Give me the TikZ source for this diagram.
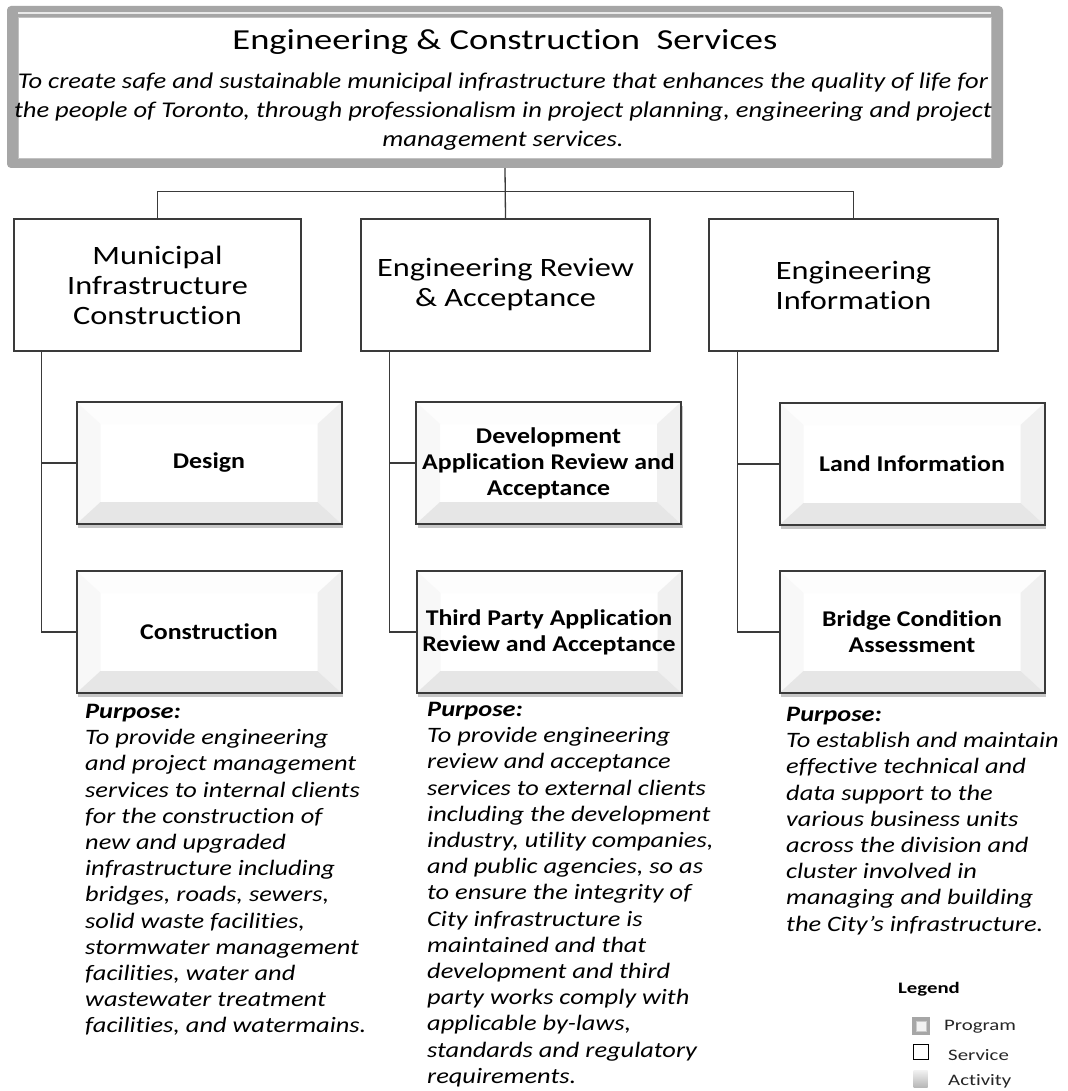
\documentclass[tikz,border=0pt]{standalone}
\usepackage{fontspec}
\defaultfontfeatures{Ligatures={NoCommon,TeX}}
\setmainfont{Carlito}
\newfontfamily\ftitle[FakeStretch=1.26]{Carlito}
\newfontfamily\fmission[FakeStretch=1.18]{Carlito}
\newfontfamily\fserv[FakeStretch=1.22]{Carlito}
\newfontfamily\fact[FakeStretch=1.15]{Carlito}
\newfontfamily\fpurp[FakeStretch=1.2]{Carlito}
\newfontfamily\fleg[FakeStretch=1.3]{Carlito}
\usetikzlibrary{calc,shadows}
\definecolor{frame}{HTML}{A6A6A6}
\definecolor{edge}{HTML}{3A3A3A}
\definecolor{bvtop}{HTML}{FDFDFD}
\definecolor{bvleft}{HTML}{F8F8F8}
\definecolor{bvright}{HTML}{F0F0F0}
\definecolor{bvbot}{HTML}{E6E6E6}
\tikzset{
  conn/.style={draw=edge, line width=1.3pt},
  servbox/.style={draw=edge, line width=1.6pt, fill=white, minimum width=#1,
    minimum height=132, inner sep=0, align=center,
    font=\fserv\fontsize{26.5}{30}\selectfont},
  actbox/.style={draw=edge, line width=2pt, fill=white, minimum width=265,
    minimum height=122, inner sep=0, align=center,
    font=\fact\bfseries\fontsize{22.5}{26}\selectfont,
    drop shadow={shadow xshift=1.5pt, shadow yshift=-3.5pt, opacity=0.22, fill=black},
    path picture={
      \coordinate (bNW) at (path picture bounding box.north west);
      \coordinate (bNE) at (path picture bounding box.north east);
      \coordinate (bSW) at (path picture bounding box.south west);
      \coordinate (bSE) at (path picture bounding box.south east);
      \fill[bvtop] (bNW) -- (bNE) -- ($(bNE)+(-24,22)$) -- ($(bNW)+(24,22)$) -- cycle;
      \fill[bvleft] (bNW) -- ($(bNW)+(24,22)$) -- ($(bSW)+(24,-22)$) -- (bSW) -- cycle;
      \fill[bvright] (bNE) -- ($(bNE)+(-24,22)$) -- ($(bSE)+(-24,-22)$) -- (bSE) -- cycle;
      \fill[bvbot] (bSW) -- ($(bSW)+(24,-22)$) -- ($(bSE)+(-24,-22)$) -- (bSE) -- cycle;
    }},
  purp/.style={anchor=north west, inner sep=0, align=left,
    font=\fpurp\itshape\fontsize{22}{26.2}\selectfont},
  legtext/.style={anchor=west, inner sep=0, text=black!85,
    font=\fleg\fontsize{16}{18}\selectfont}
}
\begin{document}
\begin{tikzpicture}[x=1pt,y=-1pt]
\useasboundingbox (0,0) rectangle (1067,1091);
\fill[white] (0,0) rectangle (1067,1091);

% ---------- program box ----------
\node[fill=frame, rounded corners=4pt, minimum width=996, minimum height=162,
      inner sep=0] (prog) at (505,87) {};
\fill[white!75!frame] (18,12.3) rectangle (991,14.2);
\fill[white] (18,17) rectangle (991,158);
\draw[frame!70, line width=0.6pt] (18,17) rectangle (991,158);
\node[font=\ftitle\fontsize{29}{32}\selectfont, inner sep=0] (title) at (505,42)
  {Engineering \& Construction\ \ Services};
\node[font=\fmission\itshape\fontsize{22.5}{29}\selectfont, align=center, inner sep=0]
  (mission) at (503,112)
  {To create safe and sustainable municipal infrastructure that enhances the quality of life for\\
   the people of Toronto, through professionalism in project planning, engineering and project\\
   management services.};

% ---------- services ----------
\node[servbox=287] (s1) at (157.5,285) {Municipal\\Infrastructure\\Construction};
\node[servbox=289] (s2) at (505.5,285) {Engineering Review\\\& Acceptance};
\node[servbox=289] (s3) at (853.5,285) {Engineering\\Information};

\draw[conn] (prog.south) -- (s2.north);
\draw[conn] (s1.north) -- ++(0,-27) -| (s3.north);

% ---------- activities ----------
\node[actbox] (a11) at (209,463) {Design};
\node[actbox] (a12) at (209,632) {Construction};
\node[actbox] (a21) at (548.5,463) {Development\\Application Review and\\Acceptance};
\node[actbox] (a22) at (549,632) {Third Party Application\\Review and Acceptance};
\node[actbox] (a31) at (912,464) {Land Information};
\node[actbox] (a32) at (912,632) {Bridge Condition\\Assessment};

\draw[conn] ([xshift=28]s1.south west) |- (a12.west);
\draw[conn] ([xshift=28]s1.south west |- a11.west) -- (a11.west);
\draw[conn] ([xshift=29]s2.south west) |- (a22.west);
\draw[conn] ([xshift=29]s2.south west |- a21.west) -- (a21.west);
\draw[conn] ([xshift=29.5]s3.south west) |- (a32.west);
\draw[conn] ([xshift=29.5]s3.south west |- a31.west) -- (a31.west);

% ---------- purposes ----------
\node[purp] (p1) at (85,704) {\textbf{Purpose:}\\
To provide engineering\\
and project management\\
services to internal clients\\
for the construction of\\
new and upgraded\\
infrastructure including\\
bridges, roads, sewers,\\
solid waste facilities,\\
stormwater management\\
facilities, water and\\
wastewater treatment\\
facilities, and watermains.};
\node[purp] (p2) at (427,702) {\textbf{Purpose:}\\
To provide engineering\\
review and acceptance\\
services to external clients\\
including the development\\
industry, utility companies,\\
and public agencies, so as\\
to ensure the integrity of\\
City infrastructure is\\
maintained and that\\
development and third\\
party works comply with\\
applicable by-laws,\\
standards and regulatory\\
requirements.};
\node[purp] (p3) at (786,707) {\textbf{Purpose:}\\
To establish and maintain\\
effective technical and\\
data support to the\\
various business units\\
across the division and\\
cluster involved in\\
managing and building\\
the City's infrastructure.};

% ---------- legend ----------
\node[font=\fleg\bfseries\fontsize{16}{18}\selectfont, inner sep=0] (leg) at (929,989) {Legend};
\node[fill=frame, minimum width=18, minimum height=18, inner sep=0] (licp) at (921,1026) {};
\node[fill=white!85!frame, draw=frame!60, line width=0.6pt, minimum width=10, minimum height=10, inner sep=0] (licpin) at (licp.center) {};
\node[draw=black, line width=1.6pt, minimum width=15, minimum height=15, inner sep=0] (lics) at (921,1052) {};
\node[top color=black!5, bottom color=black!28, minimum width=14, minimum height=17, inner sep=0] (lica) at (920.5,1078.5) {};
\node[legtext] (ltp) at (944,1027) {Program};
\node[legtext] (lts) at (948,1055) {Service};
\node[legtext] (lta) at (948,1081) {Activity};
\end{tikzpicture}
\end{document}
